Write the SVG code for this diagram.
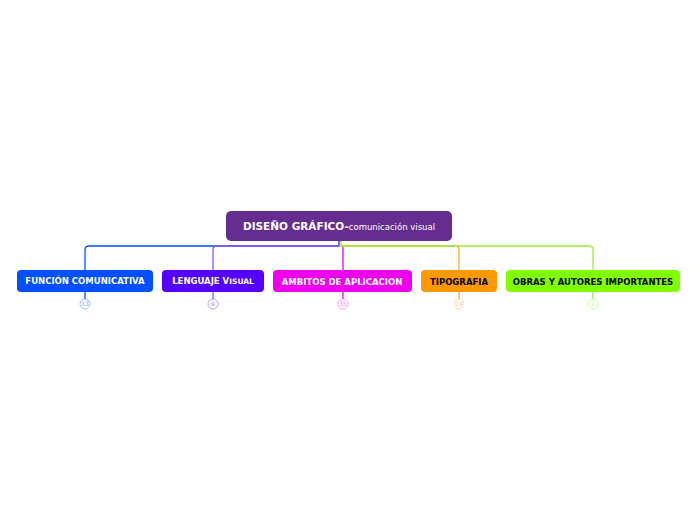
<svg xmlns="http://www.w3.org/2000/svg" width="696" height="520" viewBox="0 0 696 520">
<style>
.c{fill:none;stroke-width:1.3}
.t{font-family:"DejaVu Sans",Verdana,sans-serif;font-weight:bold;font-size:8.5px;text-anchor:middle}
.b{fill:#fff;stroke-width:0.8}
.bt{font-family:"DejaVu Sans",sans-serif;font-size:6px;text-anchor:middle}
</style>
<rect width="696" height="520" fill="#fff"/>
<g id="connectors">
<path class="c" stroke="#0050ff" d="M339,241 V246 H89 Q85,246 85,250 V270"/>
<path class="c" stroke="#8855ff" d="M339,241 V246 H217 Q213,246 213,250 V270"/>
<path class="c" stroke="#ee00ee" d="M343,246 V270"/>
<path class="c" stroke="#ffaa33" d="M339,246 H455 Q459,246 459,250 V270"/>
<path class="c" stroke="#99ee33" d="M341,241 V246 H589 Q593,246 593,250 V270"/>
<path class="c" stroke="#0050ff" d="M85,292 V299"/>
<path class="c" stroke="#8855ff" d="M213,292 V299"/>
<path class="c" stroke="#ee00ee" d="M343,292 V299"/>
<path class="c" stroke="#ffaa33" d="M459,292 V299"/>
<path class="c" stroke="#99ee33" d="M593,292 V299"/>
</g>
<g id="root">
<rect x="226" y="211" width="226" height="30" rx="5" fill="#662d91"/>
<text x="339" y="230" font-family="DejaVu Sans,Verdana,sans-serif" text-anchor="middle" fill="#fff"><tspan font-weight="bold" font-size="10.5">DISEÑO GRÁFICO-</tspan><tspan font-size="8.5">comunicación visual</tspan></text>
</g>
<g id="n1">
<rect x="17" y="270" width="136" height="22" rx="4" fill="#0050ff"/>
<text class="t" x="85" y="284" fill="#fff">FUNCIÓN COMUNICATIVA</text>
<circle class="b" cx="85" cy="304" r="5" stroke="#88aaff"/><text class="bt" x="85" y="306" fill="#88aaff">13</text>
</g>
<g id="n2">
<rect x="162" y="270" width="102" height="22" rx="4" fill="#5500ff"/>
<text class="t" x="213" y="284" fill="#fff">LENGUAJE V<tspan font-size="7.5">ISUAL</tspan></text>
<circle class="b" cx="213" cy="304" r="5" stroke="#aa88ff"/><text class="bt" x="213" y="306" fill="#aa88ff">9</text>
</g>
<g id="n3">
<rect x="273" y="270" width="139" height="22" rx="4" fill="#ee00ee"/>
<text class="t" x="342" y="285" fill="#fff">AMBITOS DE APLICACION</text>
<circle class="b" cx="343" cy="304" r="5" stroke="#ff88ff"/><text class="bt" x="343" y="306" fill="#ff88ff">35</text>
</g>
<g id="n4">
<rect x="421" y="270" width="76" height="22" rx="4" fill="#ff9900"/>
<text class="t" x="459" y="285" fill="#000">TIPOGRAFIA</text>
<circle class="b" cx="459" cy="304" r="5" stroke="#ffcc88"/><text class="bt" x="459" y="306" fill="#ffcc88">19</text>
</g>
<g id="n5">
<rect x="506" y="270" width="174" height="22" rx="4" fill="#80ff00"/>
<text class="t" x="593" y="285" fill="#000">OBRAS Y AUTORES IMPORTANTES</text>
<circle class="b" cx="593" cy="304" r="5" stroke="#bbff88"/><text class="bt" x="593" y="306" fill="#bbff88">2</text>
</g>
</svg>
